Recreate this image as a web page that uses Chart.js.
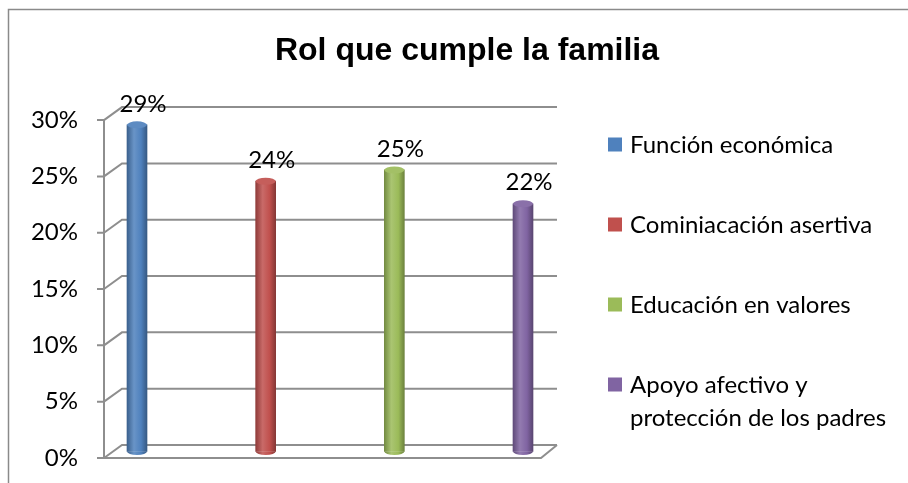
<!DOCTYPE html>
<html>
<head>
<meta charset="utf-8">
<script src="https://cdn.jsdelivr.net/npm/chart.js@4/dist/chart.umd.min.js"></script>
<style>
  html, body { margin: 0; padding: 0; background: #fff; }
  #wrap { width: 908px; height: 483px; }
</style>
</head>
<body>
<div id="wrap"><canvas id="chart"></canvas></div>
<script>
// Data
const categories = ['Función económica', 'Cominiacación asertiva', 'Educación en valores', 'Apoyo afectivo y protección de los padres'];
const legendLines = [['Función económica'], ['Cominiacación asertiva'], ['Educación en valores'], ['Apoyo afectivo y', 'protección de los padres']];
const values = [29, 24, 25, 22];
const colors = ['#4F81BD', '#C0504D', '#9BBB59', '#8064A2'];
const yMin = 0, yMax = 30, yStep = 5;

const FONT = 'Lato, "Liberation Sans", sans-serif';
const FSIZE = 24;
const GRID = '#8e8e8e';
const DY = 6.5; // 3D depth offset (half depth in y)

function shade(hex, f) {
  const n = parseInt(hex.slice(1), 16);
  let r = n >> 16, g = (n >> 8) & 255, b = n & 255;
  const m = c => f < 0 ? Math.round(c * (1 + f)) : Math.round(c + (255 - c) * f);
  return `rgb(${m(r)},${m(g)},${m(b)})`;
}

function cylGradient(ctx, x, w, color) {
  const g = ctx.createLinearGradient(x - w / 2, 0, x + w / 2, 0);
  g.addColorStop(0, shade(color, -0.25));
  g.addColorStop(0.35, shade(color, 0.15));
  g.addColorStop(0.7, color);
  g.addColorStop(1, shade(color, -0.3));
  return g;
}

const cyl3d = {
  id: 'cyl3d',
  beforeDraw(chart) {
    const { ctx, width, height } = chart;
    ctx.save();
    ctx.fillStyle = '#fff';
    ctx.fillRect(0, 0, width, height);
    ctx.strokeStyle = '#8a8a8a';
    ctx.lineWidth = 1.5;
    ctx.beginPath();
    ctx.moveTo(8.5, height);
    ctx.lineTo(8.5, 9.5);
    ctx.lineTo(width, 9.5);
    ctx.stroke();
    ctx.restore();
  },
  beforeDatasetsDraw(chart) {
    const { ctx, chartArea: a, scales: { y } } = chart;
    const fl = a.left - 33, bl = a.left - 15, br = a.right + 34, fr = a.right + 18;
    ctx.save();
    ctx.strokeStyle = GRID;
    ctx.lineWidth = 2;
    ctx.beginPath();
    y.ticks.forEach(t => {
      const p = y.getPixelForValue(t.value);
      ctx.moveTo(fl, p + DY);
      ctx.lineTo(bl, p - DY);
      ctx.lineTo(br, p - DY);
      // tick mark
      ctx.moveTo(fl - 7, p + DY);
      ctx.lineTo(fl, p + DY);
    });
    const top = y.getPixelForValue(yMax), bot = y.getPixelForValue(yMin);
    ctx.moveTo(fl, top + DY);
    ctx.lineTo(fl, bot + DY);
    ctx.lineTo(fr, bot + DY);
    ctx.lineTo(br, bot - DY);
    ctx.stroke();
    ctx.restore();
  },
  afterDatasetsDraw(chart) {
    const { ctx } = chart;
    const meta = chart.getDatasetMeta(0);
    ctx.save();
    meta.data.forEach((el, i) => {
      const w = el.width, c = colors[i];
      // rounded bottom
      ctx.fillStyle = cylGradient(ctx, el.x, w, c);
      ctx.beginPath();
      ctx.ellipse(el.x, el.base, w / 2, 3.5, 0, 0, Math.PI);
      ctx.fill();
      // top cap
      ctx.fillStyle = shade(c, 0.08);
      ctx.beginPath();
      ctx.ellipse(el.x, el.y, w / 2, 3.5, 0, 0, Math.PI * 2);
      ctx.fill();
      // value label
      ctx.fillStyle = '#000';
      ctx.font = `${FSIZE}px ${FONT}`;
      ctx.textAlign = 'center';
      ctx.textBaseline = 'middle';
      ctx.fillText(values[i] + '%', el.x + 6, el.y - 21);
    });
    // legend
    const rows = [144.5, 224.5, 304.5, 384.5];
    ctx.font = `${FSIZE}px ${FONT}`;
    ctx.textAlign = 'left';
    ctx.textBaseline = 'middle';
    legendLines.forEach((lines, i) => {
      ctx.fillStyle = colors[i];
      ctx.fillRect(608, rows[i] - 7, 14, 14);
      ctx.fillStyle = '#000';
      lines.forEach((ln, k) => ctx.fillText(ln, 630, rows[i] + 1 + k * 33));
    });
    ctx.restore();
  }
};

new Chart(document.getElementById('chart'), {
  type: 'bar',
  data: {
    labels: categories,
    datasets: [{
      data: values,
      backgroundColor: c => {
        const x = c.chart.scales.x ? c.chart.scales.x.getPixelForValue(c.dataIndex) : NaN;
        const col = colors[c.dataIndex] || colors[0];
        if (!isFinite(x)) return col;
        return cylGradient(c.chart.ctx, x, 20, col);
      },
      borderWidth: 0,
      barThickness: 20,
      clip: false
    }]
  },
  options: {
    responsive: true,
    maintainAspectRatio: false,
    animation: false,
    layout: { padding: { left: 26, right: 0, top: 0, bottom: 31.5 } },
    plugins: {
      legend: { display: false },
      tooltip: { enabled: false },
      title: {
        display: true,
        text: 'Rol que cumple la familia',
        color: '#000',
        font: { family: '"Liberation Sans", Arial, sans-serif', size: 32, weight: 'bold', lineHeight: 1.2 },
        padding: { top: 31.8, bottom: 43.4 }
      }
    },
    scales: {
      x: { display: false, offset: false },
      y: {
        min: yMin,
        max: yMax,
        grid: { display: false, drawTicks: true, tickLength: 59 },
        border: { display: false },
        ticks: {
          stepSize: yStep,
          padding: 0,
          labelOffset: DY,
          color: '#000',
          font: { family: FONT, size: FSIZE },
          callback: v => v + '%'
        },
        afterFit: s => { s.width = 111; }
      },
      yr: {
        position: 'right',
        grid: { display: false },
        border: { display: false },
        ticks: { display: false },
        afterFit: s => { s.width = 385; }
      }
    }
  },
  plugins: [cyl3d]
});
</script>
</body>
</html>
